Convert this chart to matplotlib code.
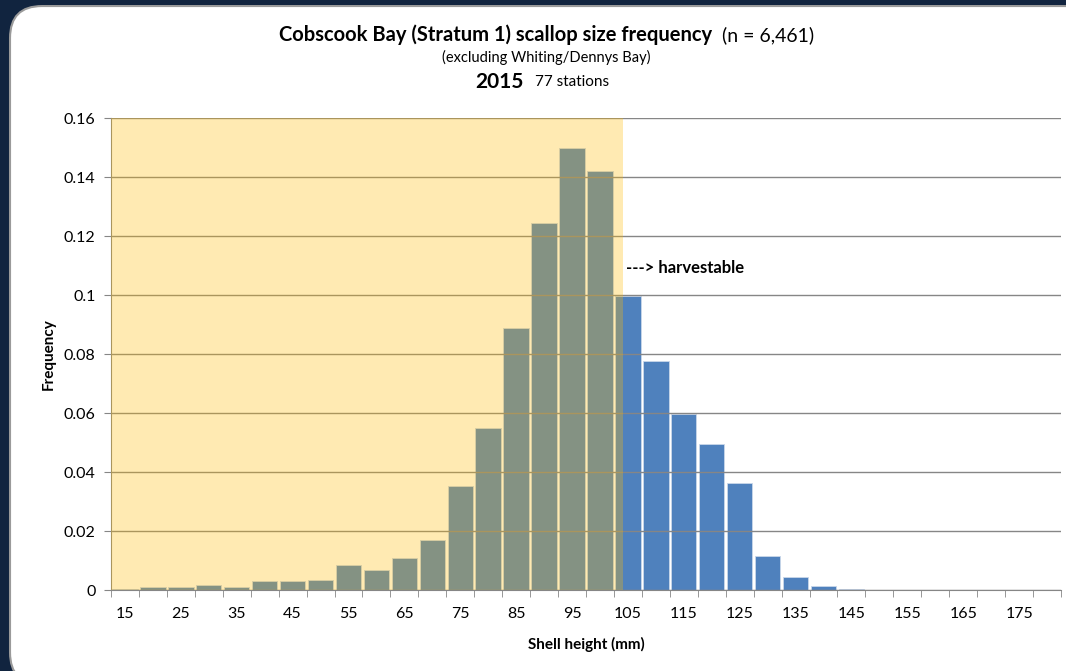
import matplotlib.pyplot as plt
from matplotlib.patches import FancyBboxPatch
from matplotlib.ticker import FuncFormatter

plt.rcParams['font.family'] = ['Lato', 'DejaVu Sans']

# shell height classes (mm) and frequency
sizes = list(range(15, 185, 5))
freq = [0.0005, 0.0011, 0.0011, 0.0017, 0.0011, 0.003, 0.003, 0.0034,
        0.0084, 0.0067, 0.0108, 0.0171, 0.0354, 0.0548, 0.0887, 0.1245,
        0.1499, 0.1421, 0.0995, 0.0775, 0.0598, 0.0496, 0.0364, 0.0115,
        0.0043, 0.0014, 0.0004, 0, 0, 0, 0, 0, 0, 0]
label_sizes = list(range(15, 180, 10))
yticks = [0, 0.02, 0.04, 0.06, 0.08, 0.1, 0.12, 0.14, 0.16]
sublegal_edge = 104.1

fig = plt.figure(figsize=(10.66, 6.71), dpi=100)
fig.patch.set_facecolor('#11243f')
panel = FancyBboxPatch((0.0094, -0.02), 1.2, 1.011, boxstyle='round,pad=0,rounding_size=0.03',
                       transform=fig.transFigure, facecolor='white', edgecolor='#9a9a9a',
                       linewidth=1.5, mutation_aspect=1066 / 671, zorder=-5)
fig.patches.append(panel)

ax = fig.add_axes([0.1041, 0.1207, 0.8912, 0.7034])
ax.set_facecolor('none')

ax.bar(sizes, freq, width=4.55, color='#4f81bd', edgecolor='#c9d7ea', linewidth=0.6, zorder=2)
ax.set_yticks(yticks)
ax.yaxis.grid(True, color='#868686', linewidth=1, zorder=1)
# translucent yellow overlay on the sub-legal sizes
ax.axvspan(12.5, sublegal_edge, color=(1, 0.73, 0), alpha=0.3, linewidth=0, zorder=3)

ax.set_xlim(12.5, 182.5)
ax.set_ylim(0, 0.16)
ax.set_xticks(label_sizes)
ax.set_xticks([s - 2.5 for s in sizes] + [182.5], minor=True)
ax.tick_params(axis='x', which='major', length=0, labelsize=11.5, pad=12)
ax.tick_params(axis='x', which='minor', length=5, color='#868686', direction='out')
ax.tick_params(axis='y', length=5, color='#868686', labelsize=11.5, pad=6)
ax.yaxis.set_major_formatter(FuncFormatter(lambda v, p: '0' if v == 0 else ('%g' % v)))
for s in ['top', 'right']:
    ax.spines[s].set_visible(False)
for s in ['left', 'bottom']:
    ax.spines[s].set_color('#868686')
ax.set_axisbelow(False)

ax.set_xlabel('Shell height (mm)', fontsize=11, fontweight='bold', labelpad=12)
ax.set_ylabel('Frequency', fontsize=11, fontweight='bold', labelpad=6)

ax.text(104.7, 0.109, '---> harvestable', fontsize=12, fontweight='bold', va='center', ha='left', zorder=4)

fig.text(0.668, 0.948, 'Cobscook Bay (Stratum 1) scallop size frequency', fontsize=14.5,
         fontweight='bold', ha='right', va='center')
fig.text(0.677, 0.948, '(n = 6,461)', fontsize=14, ha='left', va='center')
fig.text(0.512, 0.915, '(excluding Whiting/Dennys Bay)', fontsize=10.5, ha='center', va='center')
fig.text(0.491, 0.878, '2015', fontsize=15, fontweight='bold', ha='right', va='center')
fig.text(0.502, 0.878, '77 stations', fontsize=11, ha='left', va='center')

fig.savefig('out.png', dpi=100, facecolor=fig.get_facecolor())
